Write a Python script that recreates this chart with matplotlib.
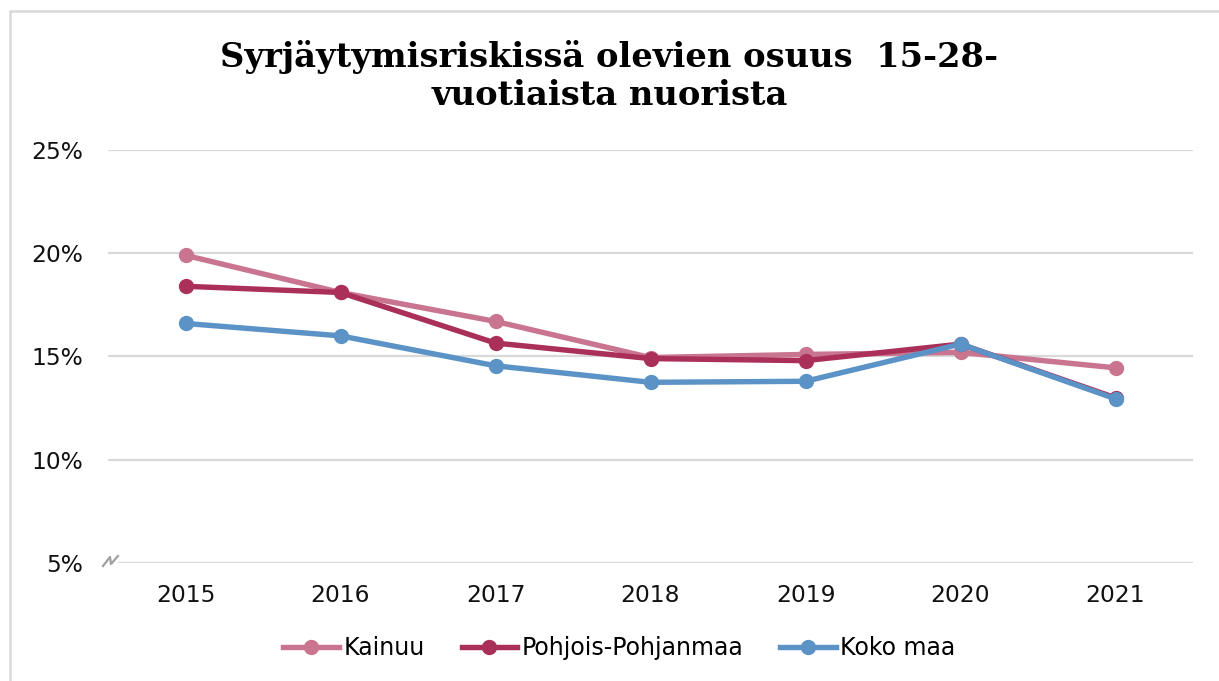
import matplotlib
matplotlib.use("Agg")
import matplotlib.pyplot as plt
from matplotlib.lines import Line2D
from matplotlib.patches import Rectangle
from matplotlib.ticker import FuncFormatter

years = ["2015", "2016", "2017", "2018", "2019", "2020", "2021"]
kainuu = [19.9, 18.1, 16.7, 14.95, 15.1, 15.2, 14.45]
pohjois = [18.4, 18.1, 15.65, 14.9, 14.8, 15.6, 13.0]
koko_maa = [16.6, 16.0, 14.55, 13.75, 13.8, 15.6, 12.95]
series_names = ["Kainuu", "Pohjois-Pohjanmaa", "Koko maa"]
colors = ["#C97590", "#AA3059", "#5B93C7"]
yticks = [5, 10, 15, 20, 25]
title = "Syrjäytymisriskissä olevien osuus  15-28-\nvuotiaista nuorista"

W, H = 1219, 681
fig = plt.figure(figsize=(W / 100, H / 100), dpi=100)
fig.patch.set_facecolor("white")

def px(xp, yp):
    return xp / W, 1 - yp / H

# outer frame (top/left visible)
fig.add_artist(Rectangle((10 / W, -0.05), 1.2, 1 - 11 / H + 0.05, transform=fig.transFigure,
                         fill=False, edgecolor="#D9D9D9", linewidth=1.8))

ax = fig.add_axes([108 / W, 1 - 563 / H, (1193 - 108) / W, (563 - 150) / H])
x = list(range(len(years)))
for vals, name, c in zip([kainuu, pohjois, koko_maa], series_names, colors):
    ax.plot(x, vals, color=c, linewidth=3.9, marker="o", markersize=10,
            solid_capstyle="round", label=name)

ax.set_xlim(-0.5, len(years) - 0.5)
ax.set_ylim(5, 25)
ax.set_yticks(yticks)
ax.yaxis.set_major_formatter(FuncFormatter(lambda v, p: f"{v:.0f}%"))
ax.set_xticks(x)
ax.set_xticklabels(years)
ax.grid(axis="y", color="#D9D9D9", linewidth=1.6)
ax.set_axisbelow(True)
for s in ax.spines.values():
    s.set_visible(False)
ax.tick_params(axis="both", length=0, labelsize=16.8, colors="#111111")
ax.tick_params(axis="y", pad=18)
ax.tick_params(axis="x", pad=15)

# axis break mark (pixel coordinates of the zigzag)
zz = [(103, 566), (110, 557), (111, 564), (118, 556)]
fig.add_artist(Line2D([px(a, b)[0] for a, b in zz], [px(a, b)[1] for a, b in zz],
                      transform=fig.transFigure, color="#A0A0A0", linewidth=1.6))
fig.add_artist(Rectangle(px(108, 566), 10 / W, 7 / H, transform=fig.transFigure,
                         facecolor="white", edgecolor="none", zorder=0.5))

fig.text(0.5, 1 - 76 / H, title, ha="center", va="center", fontsize=24.3,
         fontweight="bold", family="DejaVu Serif", linespacing=1.2)

handles = [Line2D([0], [0], color=c, linewidth=3.9, marker="o", markersize=10)
           for c in colors]
fig.legend(handles, series_names, loc="center", bbox_to_anchor=(619.5 / W, 1 - 648 / H),
           ncol=3, frameon=False, fontsize=17, handlelength=2.35, handletextpad=0.2,
           columnspacing=1.55, borderpad=0, borderaxespad=0)

fig.savefig("out.png", dpi=100, facecolor="white")
